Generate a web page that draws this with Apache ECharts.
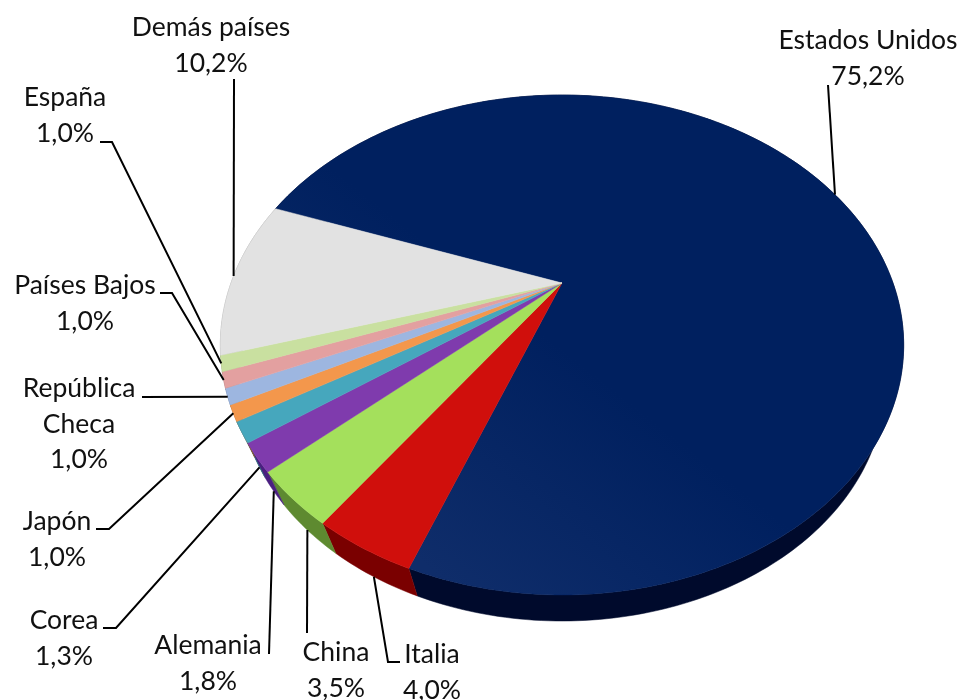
<!DOCTYPE html>
<html>
<head>
<meta charset="utf-8">
<title>Participación por país</title>
<style>
  html, body { margin: 0; padding: 0; background: #fff; }
  #chart { width: 961px; height: 700px; }
</style>
<script src="https://cdn.jsdelivr.net/npm/echarts@6/dist/echarts.min.js"></script>
</head>
<body>
<div id="chart"></div>
<script>
// datos, en sentido horario desde Estados Unidos
const countries = ['Estados Unidos', 'Italia', 'China', 'Alemania', 'Corea', 'Japón', 'República\nCheca', 'Países Bajos', 'España', 'Demás países']
const shares = [75.2, 4.0, 3.5, 1.8, 1.3, 1.0, 1.0, 1.0, 1.0, 10.2]

const topColors = ['#02215f', '#d00f0c', '#a4e05c', '#7f3bad', '#46a7bd', '#f3974c', '#9db6e0', '#e3a0a0', '#c9e0a0', '#e2e2e2']
const sideColors = ['#000a2c', '#7a0000', '#5e8a30', '#4a1f80', '#2a6a7a', '#9a5a20', '#5a6f90', '#906060', '#80905f', '#909090']

// posicion del texto [x centro, y primera linea]
const labelPos = [[868, 23], [432, 637], [336, 635], [208, 628], [64, 603], [57, 504], [79, 371], [85, 268], [65, 80], [211, 10]]
// codo de cada linea guia; el ultimo punto sale del centro del borde de la porcion
const leaderElbows = [
  [[828, 85]],
  [[400, 662], [388, 662]],
  [[307, 633]],
  [[269, 654]],
  [[103, 628], [116, 628]],
  [[96, 529], [109, 529]],
  [[142, 397]],
  [[160, 293], [172, 293]],
  [[100, 142], [112, 142]],
  [[234, 79]]
]
// la guia baja hasta el canto en las porciones de delante
const leaderOnSide = [false, true, true, true, true, false, false, false, false, false]

const apexX = 562
const apexY = 283
const radiusX = 331
const radiusY = 234.6
const tilt = 0.248
const startDeg = 290.1
const depthY = 43.2
const depthScale = 0.945

const total = shares.reduce((a, b) => a + b, 0)
const starts = []
shares.reduce((acc, v, i) => {
  starts[i] = acc
  return acc + v
}, 0)

function rimPoint(deg) {
  const r = (deg * Math.PI) / 180
  const u = Math.sin(r)
  const v = -Math.cos(r)
  const d = 1 - tilt * v
  return [apexX + (radiusX * u) / d, apexY + (radiusY * v) / d]
}
function lowerPoint(p) {
  return [apexX + (p[0] - apexX) * depthScale, apexY + depthY + (p[1] - apexY) * depthScale]
}
function shareDeg(value) {
  return startDeg + (value / total) * 360
}
function rimArc(i) {
  const a = shareDeg(starts[i])
  const b = shareDeg(starts[i] + shares[i])
  const n = Math.max(2, Math.ceil(b - a))
  const pts = []
  for (let k = 0; k <= n; k++) pts.push(rimPoint(a + ((b - a) * k) / n))
  return pts
}

const seriesData = shares.map((v, i) => [i, v])

const sideSeries = {
  type: 'custom',
  coordinateSystem: 'none',
  silent: true,
  data: seriesData,
  renderItem(params, api) {
    const i = api.value(0)
    const arc = rimArc(i)
    const low = arc.map(lowerPoint).reverse()
    return {
      type: 'polygon',
      shape: { points: arc.concat(low) },
      style: { fill: sideColors[i], stroke: sideColors[i], lineWidth: 0.5 }
    }
  }
}

const topSeries = {
  type: 'custom',
  coordinateSystem: 'none',
  silent: true,
  data: seriesData,
  renderItem(params, api) {
    const i = api.value(0)
    let fill = topColors[i]
    if (i === 0) {
      fill = new echarts.graphic.LinearGradient(0.3, 1, 0.55, 0.6, [
        { offset: 0, color: '#0f2d6a' },
        { offset: 1, color: '#00205f' }
      ])
    }
    return {
      type: 'polygon',
      shape: { points: [[apexX, apexY]].concat(rimArc(i)) },
      style: { fill, stroke: i === 0 ? '#02215f' : topColors[i], lineWidth: 0.5 }
    }
  }
}

const labelSeries = {
  type: 'custom',
  coordinateSystem: 'none',
  silent: true,
  data: seriesData,
  renderItem(params, api) {
    const i = api.value(0)
    let end = rimPoint(shareDeg(starts[i] + shares[i] * 0.5))
    if (leaderOnSide[i]) end = lowerPoint(end)
    return {
      type: 'group',
      children: [
        {
          type: 'polyline',
          shape: { points: leaderElbows[i].concat([end]) },
          style: { stroke: '#000', lineWidth: 2, fill: null }
        },
        {
          type: 'text',
          x: labelPos[i][0],
          y: labelPos[i][1],
          style: {
            text: countries[i] + '\n' + api.value(1).toFixed(1).replace('.', ',') + '%',
            fill: '#111',
            font: '26.5px Lato',
            lineHeight: 35.5,
            align: 'center',
            verticalAlign: 'top'
          }
        }
      ]
    }
  }
}

const myChart = echarts.init(document.getElementById('chart'), null, { renderer: 'canvas' })
myChart.setOption({
  animation: false,
  backgroundColor: '#fff',
  series: [sideSeries, topSeries, labelSeries]
})
</script>
</body>
</html>
